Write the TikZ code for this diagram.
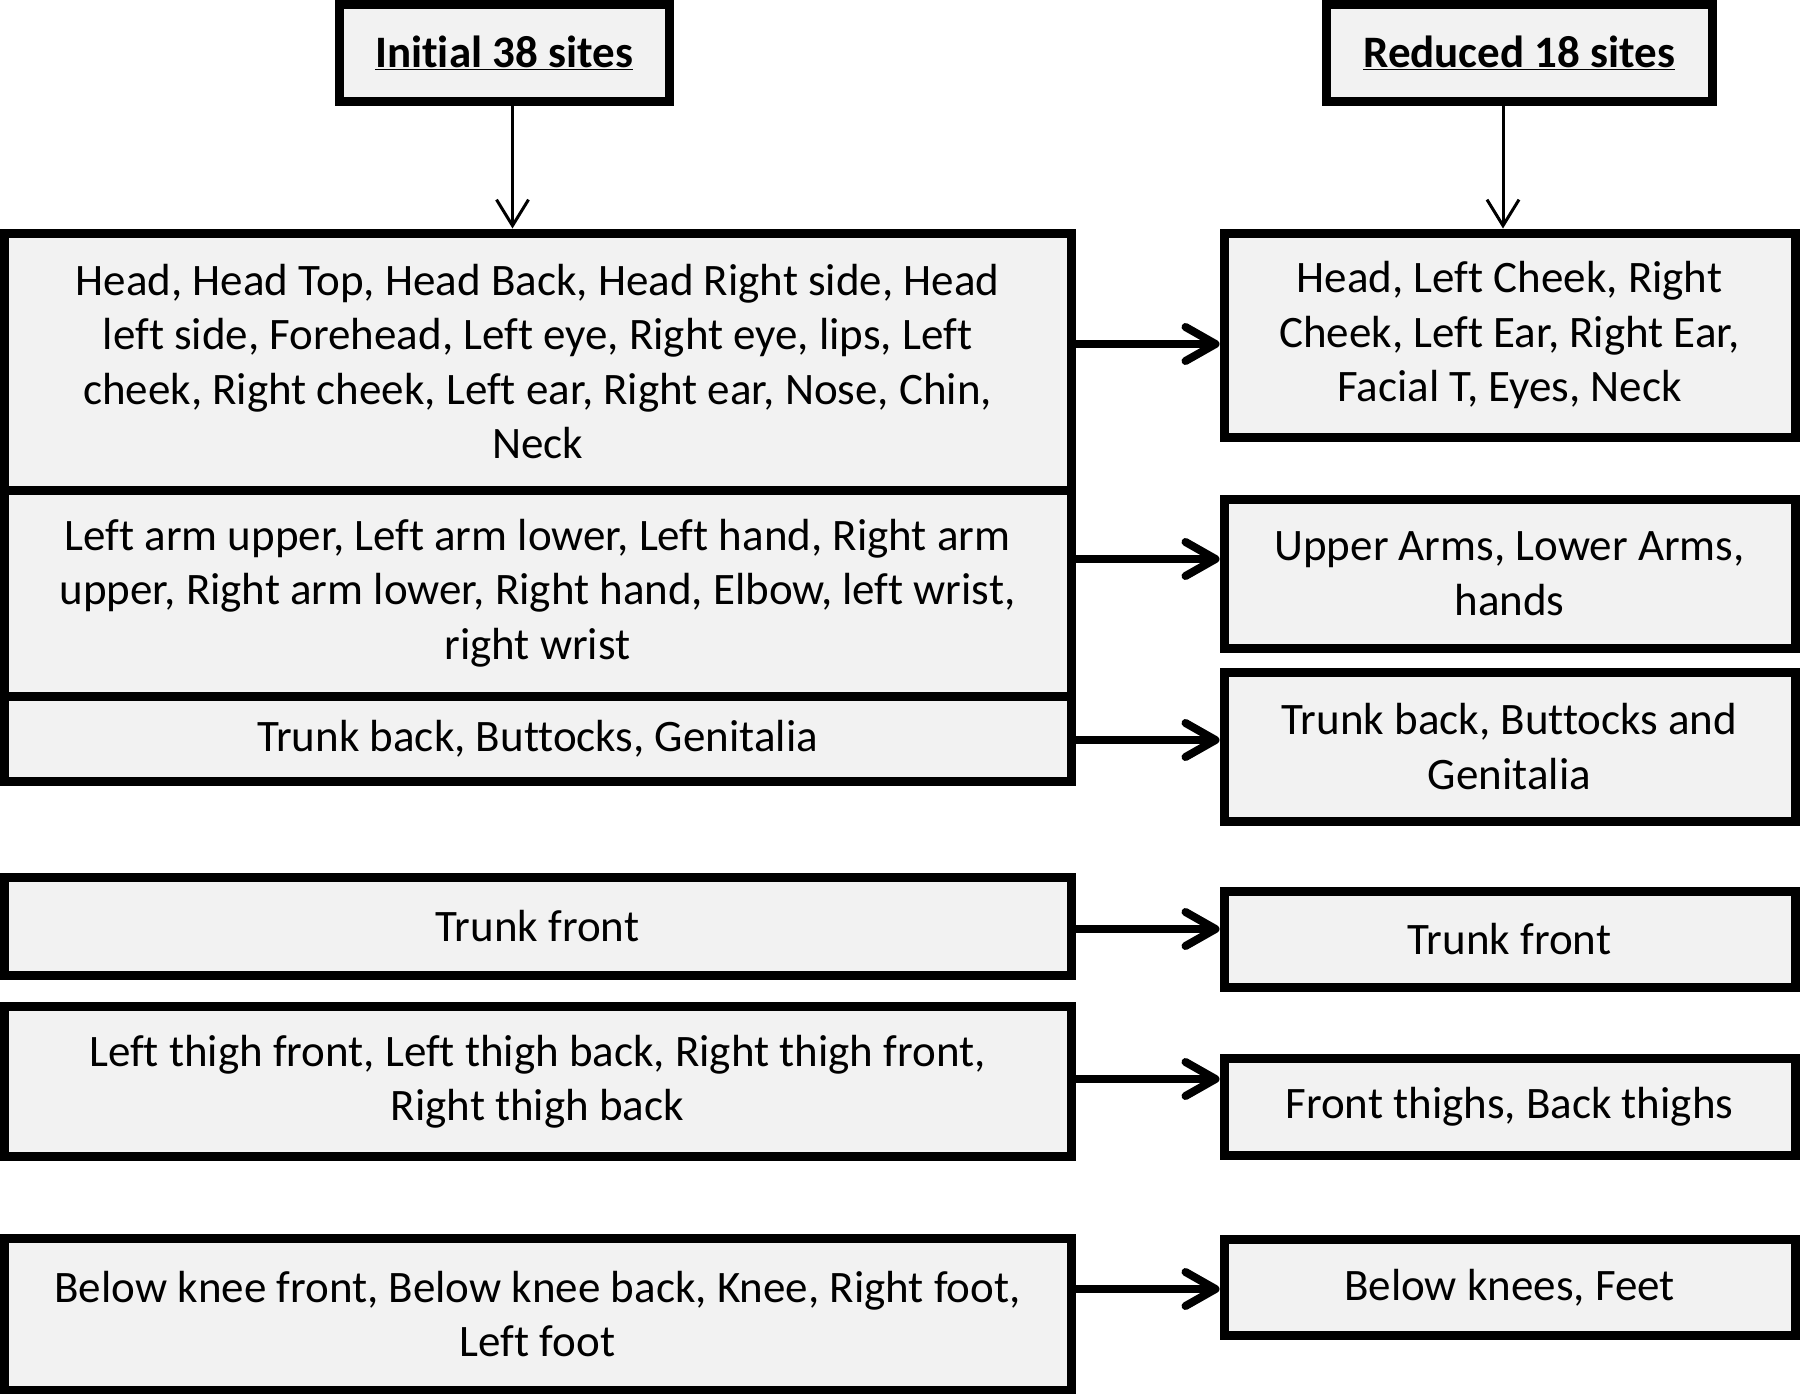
\documentclass[tikz,border=0pt]{standalone}
\usepackage{fontspec}
\setmainfont{Carlito}[Ligatures=NoCommon]
\usetikzlibrary{arrows.meta}
\definecolor{boxfill}{HTML}{F2F2F2}
\tikzset{
  box/.style={draw=black, line width=9pt, fill=boxfill, rectangle, inner sep=0pt,
    align=center, font=\fontsize{45}{54.5}\selectfont},
  hbox/.style={box, font=\fontsize{45}{54.5}\selectfont\bfseries},
  bigarrow/.style={line width=8pt, -{Straight Barb[length=30pt,width=34pt,round]}},
  thinarrow/.style={line width=3pt, -{Straight Barb[length=26pt,width=32pt]}}
}
\begin{document}
\begin{tikzpicture}[x=1pt,y=-1pt]
\useasboundingbox (0,0) rectangle (1800,1394);
% headers
\node[hbox, minimum width=330pt, minimum height=97.5pt] (h1) at (504,53.25) {\underline{Initial 38 sites}};
\node[hbox, minimum width=385.5pt, minimum height=97.5pt] (h2) at (1519.25,53.25) {\underline{Reduced 18 sites}};
% left column
\node[box, minimum width=1067pt, minimum height=257pt] (b1) at (537.5,361.5)
  {Head, Head Top, Head Back, Head Right side, Head\\left side, Forehead, Left eye, Right eye, lips, Left\\cheek, Right cheek, Left ear, Right ear, Nose, Chin,\\Neck};
\node[box, minimum width=1067pt, minimum height=206pt] (b2) at (537.5,593)
  {Left arm upper, Left arm lower, Left hand, Right arm\\upper, Right arm lower, Right hand, Elbow, left wrist,\\right wrist};
\node[box, minimum width=1067pt, minimum height=85pt] (b3) at (537.5,738.5)
  {Trunk back, Buttocks, Genitalia};
\node[box, minimum width=1067pt, minimum height=98pt] (b4) at (537.5,926)
  {Trunk front};
\node[box, minimum width=1067pt, minimum height=150pt] (b5) at (537.5,1081.5)
  {Left thigh front, Left thigh back, Right thigh front,\\Right thigh back};
\node[box, minimum width=1067pt, minimum height=151.5pt] (b6) at (537.5,1314.25)
  {Below knee front, Below knee back, Knee, Right foot,\\Left foot};
% right column
\node[box, minimum width=571pt, minimum height=204.5pt] (r1) at (1509.5,335.25)
  {Head, Left Cheek, Right\\Cheek, Left Ear, Right Ear,\\Facial T, Eyes, Neck};
\node[box, minimum width=571pt, minimum height=149pt] (r2) at (1509.5,573.5)
  {Upper Arms, Lower Arms,\\hands};
\node[box, minimum width=571pt, minimum height=149pt] (r3) at (1509.5,746.5)
  {Trunk back, Buttocks and\\Genitalia};
\node[box, minimum width=571pt, minimum height=96pt] (r4) at (1509.5,939)
  {Trunk front};
\node[box, minimum width=571pt, minimum height=97pt] (r5) at (1509.5,1106.5)
  {Front thighs, Back thighs};
\node[box, minimum width=571pt, minimum height=96.5pt] (r6) at (1509.5,1287.25)
  {Below knees, Feet};
% connector positions
\coordinate (xa) at (512.5,0);
\coordinate (xb) at (1503,0);
\coordinate (y1) at (0,344);
\coordinate (y2) at (0,559);
\coordinate (y3) at (0,740);
\coordinate (y4) at (0,929);
\coordinate (y5) at (0,1079);
\coordinate (y6) at (0,1289);
% arrows
\draw[thinarrow] (h1.south -| xa) -- (b1.north -| xa);
\draw[thinarrow] (h2.south -| xb) -- (r1.north -| xb);
\draw[bigarrow] (b1.east |- y1) -- (r1.west |- y1);
\draw[bigarrow] (b2.east |- y2) -- (r2.west |- y2);
\draw[bigarrow] (b3.east |- y3) -- (r3.west |- y3);
\draw[bigarrow] (b4.east |- y4) -- (r4.west |- y4);
\draw[bigarrow] (b5.east |- y5) -- (r5.west |- y5);
\draw[bigarrow] (b6.east |- y6) -- (r6.west |- y6);
\end{tikzpicture}
\end{document}
